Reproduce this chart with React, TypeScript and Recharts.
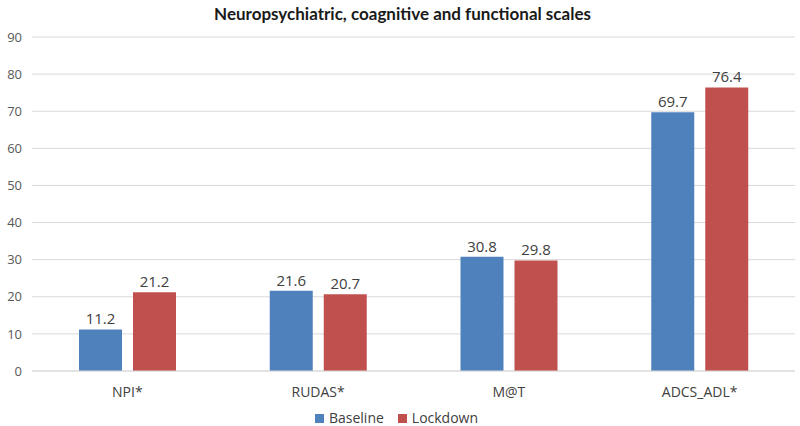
import React from 'react';
import { BarChart, Bar, XAxis, YAxis, CartesianGrid, Legend, LabelList } from 'recharts';

const categories = ['NPI*', 'RUDAS*', 'M@T', 'ADCS_ADL*'];
const baseline = [11.2, 21.6, 30.8, 69.7];
const lockdown = [21.2, 20.7, 29.8, 76.4];
const yTicks = [0, 10, 20, 30, 40, 50, 60, 70, 80, 90];
const title = 'Neuropsychiatric, coagnitive and functional scales';
const seriesColors = ['#4F81BD', '#C0504D'];

const data = categories.map((c, i) => ({ name: c, Baseline: baseline[i], Lockdown: lockdown[i] }));

const FONT = '"Open Sans", "DejaVu Sans", sans-serif';

const LegendContent = (props: any) => {
  const { payload = [] } = props;
  return (
    <div style={{ display: 'flex', justifyContent: 'center', alignItems: 'flex-end', height: 20, lineHeight: '16px', paddingLeft: 12 }}>
      {payload.map((p: any) => (
        <span key={p.value} style={{ display: 'inline-flex', alignItems: 'center', marginRight: 14, height: 16 }}>
          <span style={{ display: 'inline-block', width: 9, height: 9, background: p.color, marginRight: 5 }} />
          <span style={{ color: '#404040', fontSize: 14, fontFamily: FONT }}>{p.value}</span>
        </span>
      ))}
    </div>
  );
};

export default function App() {
  return (
    <div style={{ position: 'absolute', left: 0, top: 0, width: 800, height: 426, background: '#fff' }}>
      <div
        style={{
          position: 'absolute',
          left: 0,
          top: 3,
          width: 805,
          textAlign: 'center',
          fontFamily: 'Lato, "Open Sans", sans-serif',
          fontWeight: 700,
          fontSize: 17,
          color: '#1a1a1a',
        }}
      >
        {title}
      </div>
      <BarChart
        width={800}
        height={426}
        data={data}
        margin={{ top: 37, right: 5, bottom: 0, left: 0 }}
        barGap={11}
        barSize={43}
      >
        <CartesianGrid vertical={false} stroke="#d9d9d9" />
        <XAxis
          dataKey="name"
          axisLine={{ stroke: '#d9d9d9' }}
          tickLine={false}
          tickMargin={10}
          height={35}
          tick={{ fill: '#404040', fontSize: 14, fontFamily: FONT }}
        />
        <YAxis
          domain={[0, 90]}
          ticks={yTicks}
          width={32}
          axisLine={false}
          tickLine={false}
          tickMargin={4}
          tick={{ fill: '#595959', fontSize: 13, fontFamily: FONT }}
        />
        <Legend
          verticalAlign="bottom"
          height={20}
          wrapperStyle={{ bottom: 0 }}
          content={<LegendContent />}
        />
        <Bar dataKey="Baseline" fill={seriesColors[0]} isAnimationActive={false}>
          <LabelList dataKey="Baseline" position="top" fill="#404040" fontSize={15} fontFamily={FONT} />
        </Bar>
        <Bar dataKey="Lockdown" fill={seriesColors[1]} isAnimationActive={false}>
          <LabelList dataKey="Lockdown" position="top" fill="#404040" fontSize={15} fontFamily={FONT} />
        </Bar>
      </BarChart>
    </div>
  );
}
